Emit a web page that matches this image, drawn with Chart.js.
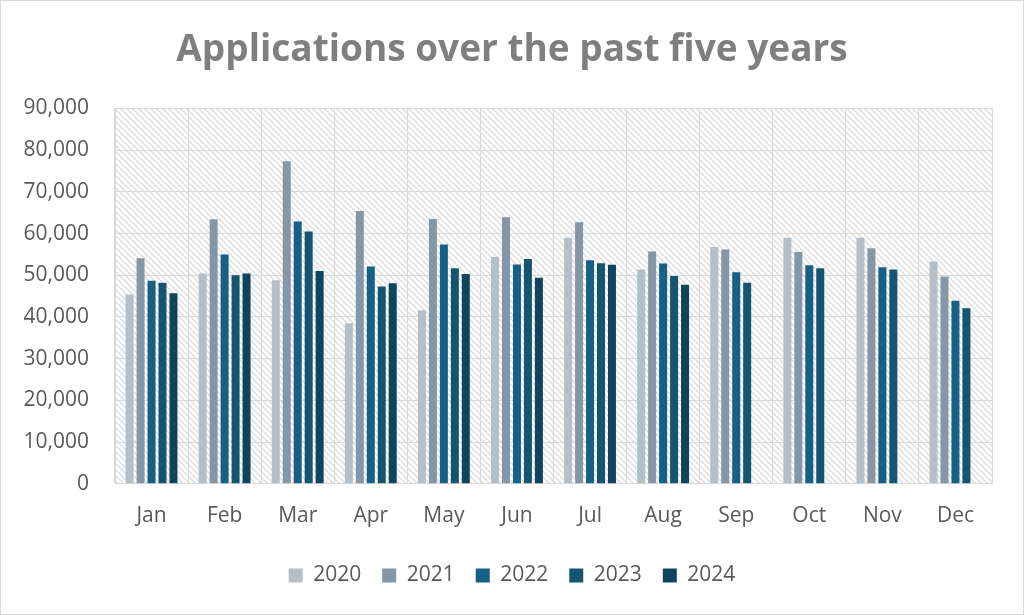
<!DOCTYPE html>
<html>
<head>
<meta charset="utf-8">
<script src="https://cdn.jsdelivr.net/npm/chart.js@4.4.1/dist/chart.umd.min.js"></script>
<style>
  html, body { margin: 0; padding: 0; background: #fff; }
  canvas { display: block; }
</style>
</head>
<body>
<canvas id="grafica" width="1024" height="615"></canvas>
<script>
const meses = ['Jan', 'Feb', 'Mar', 'Apr', 'May', 'Jun', 'Jul', 'Aug', 'Sep', 'Oct', 'Nov', 'Dec'];
const anios = ['2020', '2021', '2022', '2023', '2024'];

const datos2020 = [45400, 50400, 48800, 38500, 41600, 54400, 59000, 51400, 56800, 59000, 59000, 53300];
const datos2021 = [54100, 63400, 77300, 65400, 63500, 63900, 62700, 55700, 56200, 55600, 56500, 49700];
const datos2022 = [48700, 55000, 62900, 52100, 57400, 52600, 53600, 52800, 50700, 52400, 51900, 43900];
const datos2023 = [48200, 50000, 60500, 47300, 51700, 53900, 52900, 49800, 48200, 51700, 51400, 42100];
const datos2024 = [45700, 50400, 51000, 48100, 50300, 49400, 52500, 47700, null, null, null, null];

const colores = ['#b4bfc8', '#8597a7', '#176085', '#155571', '#0f445e'];

const yTicks = { min: 0, max: 90000, step: 10000 };

function patronRayado(ctx) {
    const c = document.createElement('canvas');
    c.width = 6;
    c.height = 6;
    const p = c.getContext('2d');
    p.fillStyle = '#ffffff';
    p.fillRect(0, 0, 6, 6);
    p.strokeStyle = '#dcdcdc';
    p.lineWidth = 1.3;
    p.beginPath();
    p.moveTo(-1, -1); p.lineTo(7, 7);
    p.moveTo(-4, 2); p.lineTo(2, 8);
    p.moveTo(2, -4); p.lineTo(8, 2);
    p.stroke();
    return ctx.createPattern(c, 'repeat');
}

const fondoPlugin = {
    id: 'fondo',
    beforeDraw(chart) {
        const { ctx, chartArea } = chart;
        ctx.save();
        ctx.fillStyle = patronRayado(ctx);
        ctx.fillRect(chartArea.left, chartArea.top, chartArea.right - chartArea.left, chartArea.bottom - chartArea.top);
        ctx.restore();
    },
    afterDraw(chart) {
        const ctx = chart.ctx;
        ctx.save();
        ctx.strokeStyle = '#d9d9d9';
        ctx.lineWidth = 1;
        ctx.strokeRect(0.5, 0.5, chart.width - 1, chart.height - 1);
        ctx.restore();
    }
};

const series = [datos2020, datos2021, datos2022, datos2023, datos2024];

const ctx = document.getElementById('grafica').getContext('2d');
new Chart(ctx, {
    type: 'bar',
    data: {
        labels: meses,
        datasets: anios.map((anio, i) => ({
            label: anio,
            data: series[i],
            backgroundColor: colores[i],
            borderWidth: 0,
            categoryPercentage: 0.75,
            barPercentage: 0.73
        }))
    },
    options: {
        responsive: false,
        animation: false,
        layout: { padding: { left: 0, right: 0, top: 0, bottom: 19 } },
        plugins: {
            title: {
                display: true,
                text: 'Applications over the past five years',
                color: '#7f7f7f',
                font: { family: 'Open Sans', size: 37, weight: 'bold' },
                padding: { top: 28, bottom: 36 }
            },
            legend: {
                position: 'bottom',
                labels: {
                    color: '#595959',
                    font: { family: 'Open Sans', size: 21 },
                    boxWidth: 14,
                    boxHeight: 14,
                    padding: 21
                }
            },
            tooltip: { enabled: false }
        },
        scales: {
            x: {
                afterFit: (s) => { s.height = s.height - 5; },
                grid: { color: '#d9d9d9', offset: true, drawTicks: false },
                border: { color: '#d9d9d9' },
                ticks: {
                    color: '#595959',
                    font: { family: 'Open Sans', size: 21 },
                    padding: 20
                }
            },
            y: {
                min: yTicks.min,
                max: yTicks.max,
                afterFit: (s) => { s.width = 115; },
                grid: { color: '#d9d9d9', drawTicks: false },
                border: { color: '#d9d9d9' },
                ticks: {
                    stepSize: yTicks.step,
                    color: '#595959',
                    font: { family: 'Open Sans', size: 21 },
                    padding: 26,
                    callback: (v) => v.toLocaleString('en-US')
                }
            },
            margen: {
                position: 'right',
                afterFit: (s) => { s.width = 32; },
                grid: { display: false, drawTicks: false },
                border: { display: false },
                ticks: { display: false }
            }
        }
    },
    plugins: [fondoPlugin]
});
</script>
</body>
</html>
